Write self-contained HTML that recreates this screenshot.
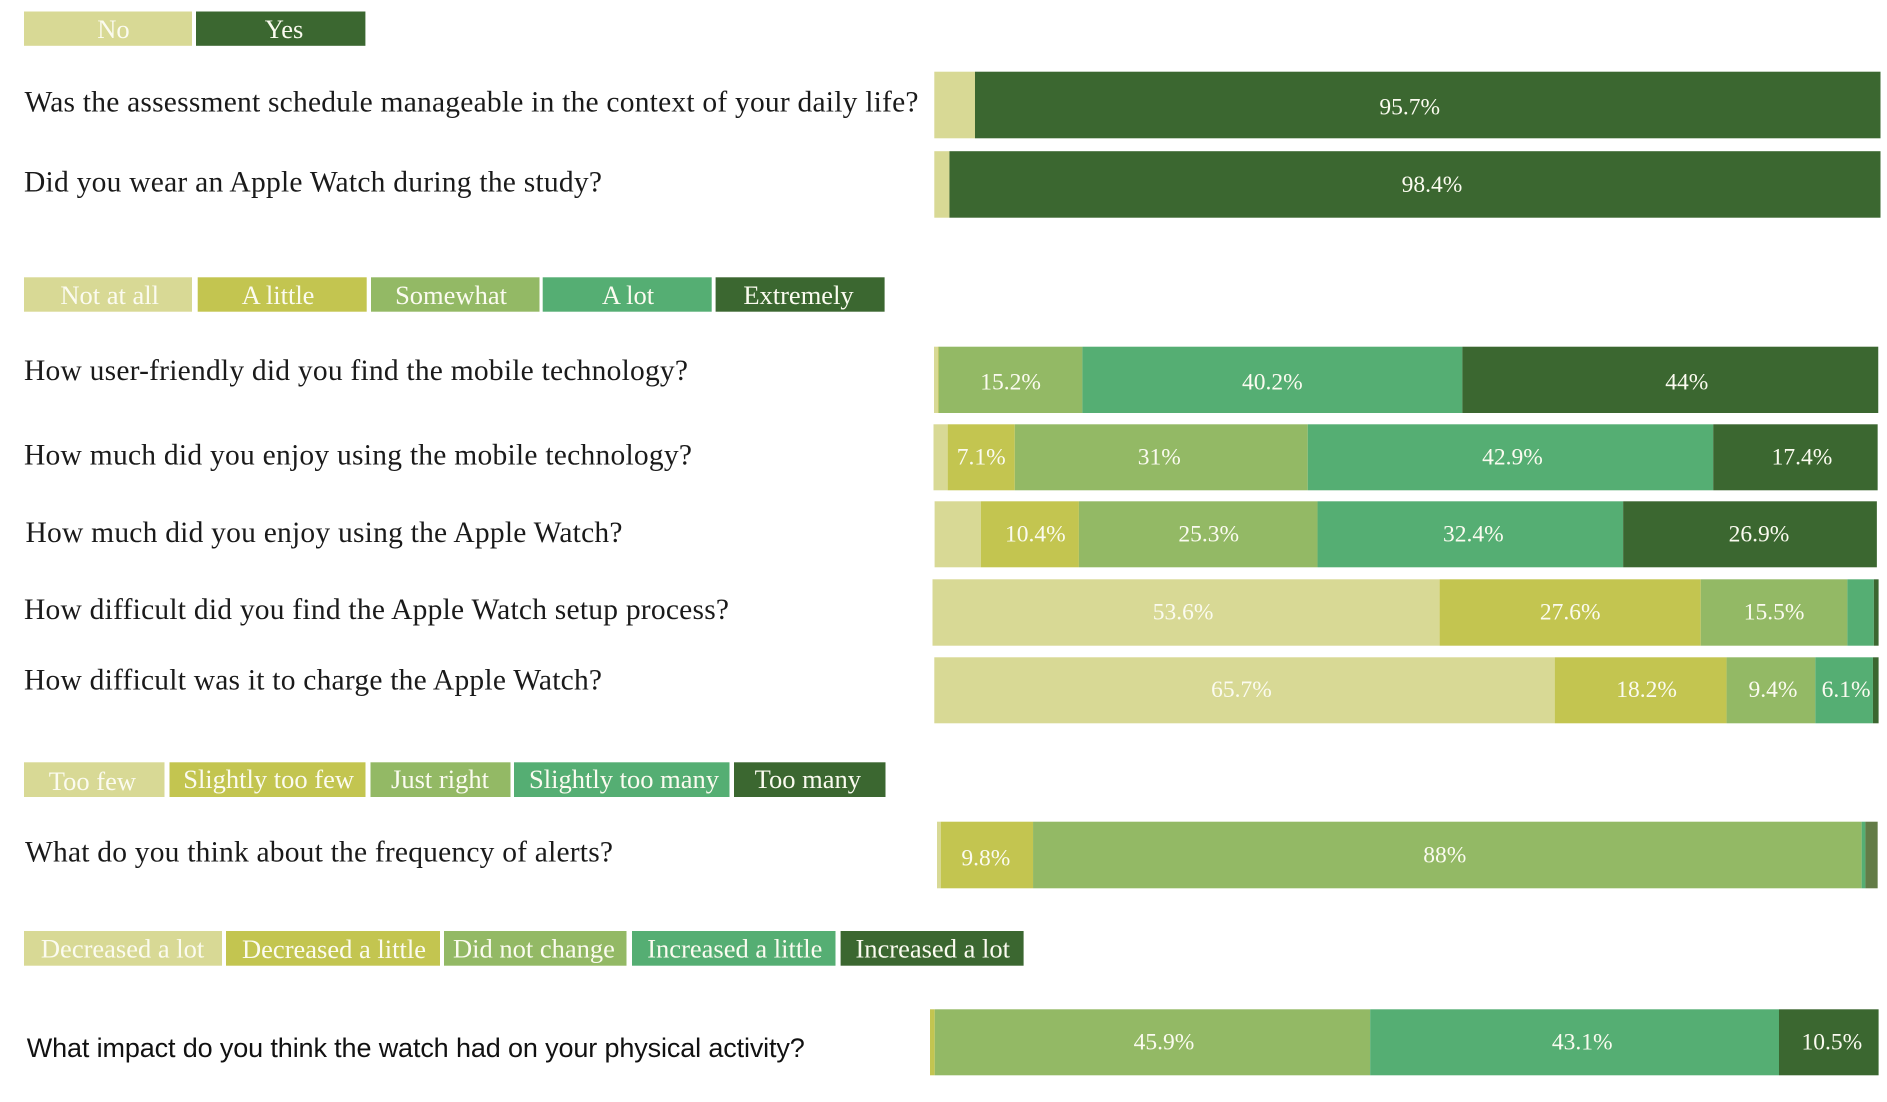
<!DOCTYPE html>
<html lang="en">
<head>
<meta charset="utf-8">
<title>Survey responses</title>
<style>
html,body{margin:0;padding:0;background:#fff;}
body{width:1887px;height:1102px;overflow:hidden;}
svg{display:block;}
.q{font-family:"Liberation Serif",serif;font-size:29.5px;fill:#1a1a1a;}
.qs{font-family:"Liberation Sans",sans-serif;font-size:27px;fill:#111;}
.lg{font-family:"Liberation Serif",serif;font-size:26.5px;fill:#fbfbf0;text-anchor:middle;}
.val{font-family:"Liberation Serif",serif;font-size:23.5px;fill:#fbfbf0;text-anchor:middle;}
</style>
</head>
<body>
<svg id="chart" xmlns="http://www.w3.org/2000/svg" width="1887" height="1102" viewBox="0 0 1887 1102">
  <rect x="0" y="0" width="1887" height="1102" fill="#ffffff"/>
  <g>
    <g><rect x="24" y="11.5" width="168" height="34.3" fill="#d8d995"/><text class="lg" x="113.5" y="38">No</text></g>
    <g><rect x="196" y="11.5" width="169.4" height="34.3" fill="#3b6730"/><text class="lg" x="284" y="38">Yes</text></g>
  </g>
  <g>
    <g><rect x="24" y="277.3" width="168" height="34.4" fill="#d8d995"/><text class="lg" x="109.7" y="304">Not at all</text></g>
    <g><rect x="197.7" y="277.3" width="169" height="34.4" fill="#c3c550"/><text class="lg" x="278" y="304">A little</text></g>
    <g><rect x="371" y="277.3" width="168.5" height="34.4" fill="#93b965"/><text class="lg" x="451" y="304">Somewhat</text></g>
    <g><rect x="542.7" y="277.3" width="169" height="34.4" fill="#55ae73"/><text class="lg" x="628" y="304">A lot</text></g>
    <g><rect x="715.6" y="277.3" width="169" height="34.4" fill="#3b6730"/><text class="lg" x="798.5" y="304">Extremely</text></g>
  </g>
  <g>
    <g><rect x="24" y="762.3" width="140.5" height="34.7" fill="#d8d995"/><text class="lg" x="92.4" y="790">Too few</text></g>
    <g><rect x="169.5" y="762.3" width="196" height="34.7" fill="#c3c550"/><text class="lg" x="268.6" y="788">Slightly too few</text></g>
    <g><rect x="370.5" y="762.3" width="140" height="34.7" fill="#93b965"/><text class="lg" x="440" y="788">Just right</text></g>
    <g><rect x="514" y="762.3" width="215.5" height="34.7" fill="#55ae73"/><text class="lg" x="624" y="788">Slightly too many</text></g>
    <g><rect x="734" y="762.3" width="151.5" height="34.7" fill="#3b6730"/><text class="lg" x="807.8" y="788">Too many</text></g>
  </g>
  <g>
    <g><rect x="24" y="931" width="198" height="34.7" fill="#d8d995"/><text class="lg" x="122.6" y="957.5">Decreased a lot</text></g>
    <g><rect x="226" y="931" width="214" height="34.7" fill="#c3c550"/><text class="lg" x="334" y="958">Decreased a little</text></g>
    <g><rect x="444" y="931" width="182.5" height="34.7" fill="#93b965"/><text class="lg" x="534" y="957.5">Did not change</text></g>
    <g><rect x="632" y="931" width="203.5" height="34.7" fill="#55ae73"/><text class="lg" x="734.8" y="957.5">Increased a little</text></g>
    <g><rect x="840.6" y="931" width="183" height="34.7" fill="#3b6730"/><text class="lg" x="932.7" y="957.5">Increased a lot</text></g>
  </g>
  <g id="rows"></g>
</svg>
<script>
// ---- data ----
const categories = [
  "Was the assessment schedule manageable in the context of your daily life?",
  "Did you wear an Apple Watch during the study?",
  "How user-friendly did you find the mobile technology?",
  "How much did you enjoy using the mobile technology?",
  "How much did you enjoy using the Apple Watch?",
  "How difficult did you find the Apple Watch setup process?",
  "How difficult was it to charge the Apple Watch?",
  "What do you think about the frequency of alerts?",
  "What impact do you think the watch had on your physical activity?"
];
const level1 = [4.3, 1.6, 0.4, 1.5, 4.9, 53.6, 65.7, 0.4, 0];
const level2 = [0, 0, 0.1, 7.1, 10.4, 27.6, 18.2, 9.8, 0.5];
const level3 = [0, 0, 15.2, 31, 25.3, 15.5, 9.4, 88, 45.9];
const level4 = [0, 0, 40.2, 42.9, 32.4, 2.8, 6.1, 0.4, 43.1];
const level5 = [95.7, 98.4, 44, 17.4, 26.9, 0.5, 0.6, 1.3, 10.5];
const minLabelled = 6;

// ---- layout (not data) ----
const seriesColors = ["#d8d995", "#c3c550", "#93b965", "#55ae73", "#3b6730"];
const rowFrames = [
  {left:934.3, right:1880.5, top:71.7,  h:66.6, dy:9.5, qx:24.5, qy:111.7, qw:894},
  {left:934.3, right:1880.5, top:151.2, h:66.5, dy:7.4, qx:24,   qy:191.7, qw:578},
  {left:934,   right:1879.2, top:346.7, h:66.3, dy:9.4, qx:24,   qy:380,   qw:664},
  {left:933.5, right:1878.6, top:424.3, h:66,   dy:7,   qx:24,   qy:464.3, qw:668},
  {left:934.6, right:1877.8, top:501.3, h:66,   dy:7.3, qx:25.5, qy:542,   qw:597},
  {left:932.5, right:1878.6, top:579.3, h:66.4, dy:6.8, qx:24,   qy:619,   qw:705},
  {left:934.3, right:1878.6, top:657.3, h:66,   dy:6.7, qx:24,   qy:689.3, qw:578},
  {left:937,   right:1878.6, top:821.7, h:66.6, dy:7.3, qx:25,   qy:861.7, qw:588, tip:"#637c47"},
  {left:930,   right:1878.6, top:1009.3,h:66,   dy:7,   qx:26.8, qy:1057,  qw:778, sans:true}
];
const labelNudge = [
  [0,0,0,0,-18],[0,0,0,0,17],[0,0,0,0,16.5],[0,0,-2,2,6.5],[0,5.5,10.5,3,9],
  [-3,0,0,0,0],[-3,6,2,2,0],[0,-1,-2.5,0,0],[0,0,11.5,7.6,3]
];
const seriesValues = [level1, level2, level3, level4, level5];
const SVGNS = "http://www.w3.org/2000/svg";

function xScale(value, frame) {
  return frame.left + (value / 100) * (frame.right - frame.left);
}

const rowsLayer = document.getElementById("rows");
categories.forEach(function (question, r) {
  const f = rowFrames[r];
  const g = document.createElementNS(SVGNS, "g");
  
  

  const q = document.createElementNS(SVGNS, "text");
  
  
  q.setAttribute("class", f.sans ? "qs" : "q");
  q.setAttribute("x", f.qx);
  q.setAttribute("y", f.qy);
  q.setAttribute("textLength", f.qw);
  q.setAttribute("lengthAdjust", "spacing");
  q.textContent = question;
  g.appendChild(q);

  let cum = 0;
  seriesValues.forEach(function (series, s) {
    const v = series[r];
    if (!(v > 0)) return;
    const x0 = xScale(cum, f);
    const x1 = xScale(cum + v, f);
    cum += v;
    const rect = document.createElementNS(SVGNS, "rect");
    
    
    rect.setAttribute("x", x0);
    rect.setAttribute("y", f.top);
    rect.setAttribute("width", x1 - x0);
    rect.setAttribute("height", f.h);
    rect.setAttribute("fill", s === 4 && f.tip ? f.tip : seriesColors[s]);
    g.appendChild(rect);
    if (v >= minLabelled) {
      const t = document.createElementNS(SVGNS, "text");
      
      
      t.setAttribute("class", "val");
      t.setAttribute("x", (x0 + x1) / 2 + labelNudge[r][s]);
      t.setAttribute("y", f.top + f.h / 2 + f.dy + (r === 7 && s === 1 ? 3 : 0));
      t.textContent = v + "%";
      g.appendChild(t);
    }
  });
  rowsLayer.appendChild(g);
});
</script>
</body>
</html>
